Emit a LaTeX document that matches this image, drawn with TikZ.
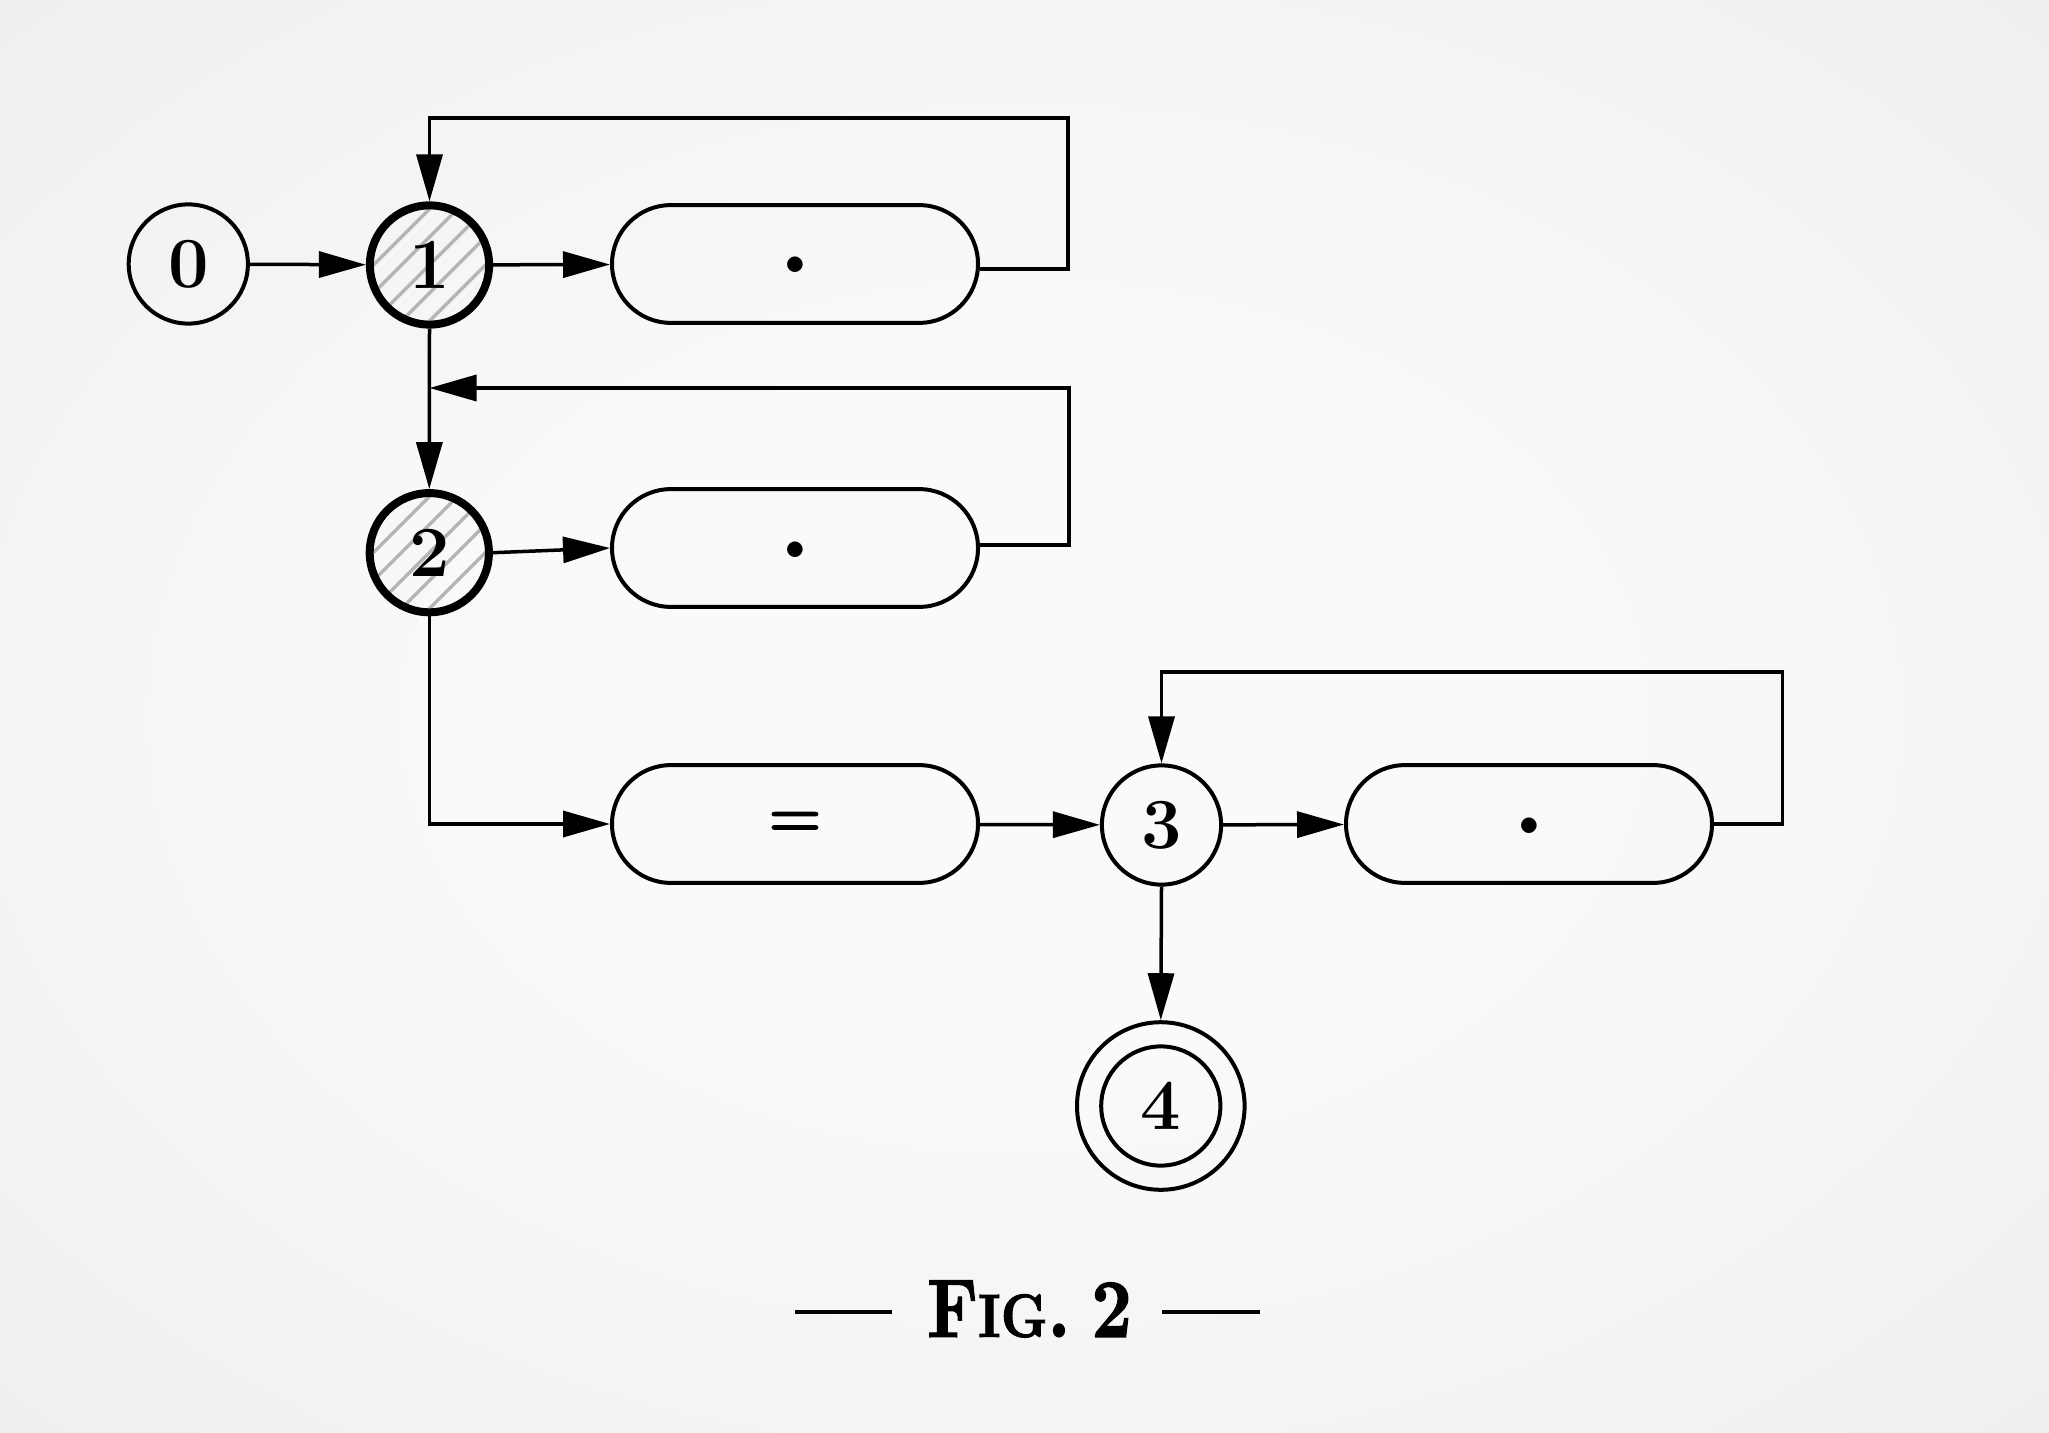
\documentclass[tikz,border=0pt]{standalone}
\usepackage{fontspec}
\newfontfamily\heavyfont{lmroman10-bold}[Extension=.otf, FakeBold=1.6]
\usetikzlibrary{arrows.meta,shapes.misc,calc}
\definecolor{bgin}{HTML}{FAFAFA}
\definecolor{bgmid}{HTML}{E8E8E8}
\definecolor{bgout}{HTML}{D8D8D8}
\definecolor{hatchc}{HTML}{B4B4B4}
\pgfdeclareradialshading{bgshade}{\pgfpoint{0bp}{0bp}}{color(0bp)=(bgin); color(12bp)=(bgin); color(50bp)=(bgmid); color(72bp)=(bgout)}
\begin{document}
\begin{tikzpicture}[x=0.5pt,y=-0.5pt,
  state/.style={circle, draw, line width=2pt, minimum size=59.6pt, inner sep=0pt,
    font=\fontsize{36}{40}\selectfont\bfseries},
  active/.style={state, line width=4pt,
    path picture={
      \foreach \k in {-6,...,6}{
        \draw[hatchc, line width=1.6pt]
          ([shift={(\k*28-100,100)}]path picture bounding box.center) --
          ([shift={(\k*28+100,-100)}]path picture bounding box.center);
      }}},
  final/.style={state, minimum size=83.8pt},
  token/.style={rounded rectangle, draw, line width=2pt, minimum width=183pt,
    minimum height=58.9pt, inner sep=0pt, font=\heavyfont\fontsize{30}{34}\selectfont},
  dotbox/.style={token, font=\fontsize{54}{58}\selectfont\bfseries, text height=9pt, text depth=0pt},
  conn/.style={line width=1.75pt, -{Triangle[length=23.5pt,width=13pt]}},
  rule/.style={line width=2pt},
]
\shade[shading=bgshade] (0,0) rectangle (2049,1433);
\useasboundingbox (0,0) rectangle (2049,1433);

% states
\node[state]  (n0) at (188.3,264) {0};
\node[active] (n1) at (429.5,265) {1};
\node[active] (n2) at (429.3,552.7) {2};
\node[state]  (n3) at (1161.5,825) {3};
\node[final]  (n4) at (1160.8,1106) {};
\node[state]  (n4i) at (1160.8,1106) {4};

% token boxes
\node[dotbox] (b1) at (795,264) {.};
\node[dotbox] (b2) at (795,548) {.};
\node[token]  (b3) at (795,824) {=};
\node[dotbox] (b4) at (1529,824) {.};

% loop corners
\coordinate (l1) at (1068,118);
\coordinate (l2) at (1069,388);
\coordinate (l3) at (1782.5,672);

% connectors
\draw[conn] (n0) -- (n1);
\draw[conn] (n1) -- (b1);
\draw[conn] ([yshift=-2.5pt]b1.east) -| (l1) -| (n1.north);
\draw[conn] (n1.south) -- (n2.north);
\draw[conn] (n2.east) -- (b2.west);
\draw[conn] ([yshift=1.5pt]b2.east) -| (l2) -- (n1.south |- l2);
\draw[conn] (n2.south) |- (b3.west);
\draw[conn] (b3) -- (n3);
\draw[conn] (n3) -- (b4);
\draw[conn] (b4.east) -| (l3) -| (n3.north);
\draw[conn] (n3.south) -- (n4.north);

% caption
\node[inner sep=0pt] (cap) at (1029.5,1309)
  {\scalebox{0.85}[1]{\heavyfont\fontsize{41.5}{44}\selectfont F\fontsize{30.6}{32}\selectfont IG\fontsize{41.5}{44}\selectfont.\hspace{0.3em}2}};
\coordinate (cl1) at (795,1311.7);
\coordinate (cl2) at (892,1311.7);
\coordinate (cr1) at (1162,1311.7);
\coordinate (cr2) at (1260,1311.7);
\draw[rule] (cl1) -- (cl2);
\draw[rule] (cr1) -- (cr2);
\end{tikzpicture}
\end{document}
